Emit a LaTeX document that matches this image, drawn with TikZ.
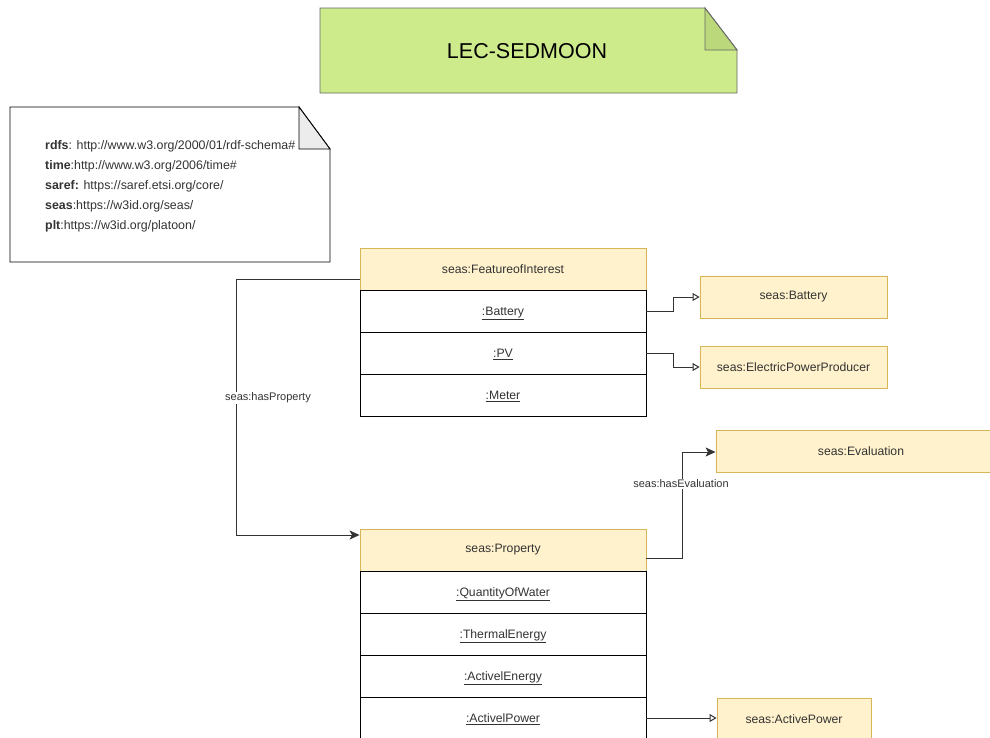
\documentclass[tikz,border=0pt]{standalone}
\usepackage{fontspec}
\setmainfont{Liberation Sans}
\usetikzlibrary{arrows.meta}
\definecolor{hdrfill}{HTML}{FFF2CC}
\definecolor{hdrline}{HTML}{D6B656}
\definecolor{notegreen}{HTML}{CDEB8B}
\definecolor{notefold}{HTML}{BBD97B}
\definecolor{notegray}{HTML}{666666}
\definecolor{edgecol}{HTML}{333333}
\begin{document}
\begin{tikzpicture}[x=1pt,y=-1pt,
  hdr/.style={draw=hdrline,fill=hdrfill,line width=0.9pt,minimum height=42pt,inner sep=0pt,font=\fontsize{12.2}{14}\selectfont,text=edgecol},
  rowbox/.style={draw=black,fill=white,line width=0.9pt,minimum height=42pt,minimum width=286pt,inner sep=0pt,text height=8.8pt,text depth=0pt,font=\fontsize{12.2}{14}\selectfont,text=edgecol},
  lbl/.style={fill=white,inner sep=1pt,font=\fontsize{11}{13}\selectfont,text=edgecol},
  conn/.style={draw=edgecol,line width=1pt},
  openarr/.style={conn,-{Triangle[open,length=7pt,width=8pt,fill=white]}},
  fillarr/.style={conn,-{Stealth[length=10pt,width=9pt,inset=2.5pt]}}
]
\useasboundingbox (0,0) rectangle (990,737);

% title note
\path[draw=notegray,fill=notegreen,line width=0.9pt] (320,8) -- (705,8) -- (737,50) -- (737,93) -- (320,93) -- cycle;
\path[draw=notegray,fill=notefold,line width=0.9pt] (705,8) -- (705,50) -- (737,50) -- cycle;
\node[font=\fontsize{21.5}{24}\selectfont,text=black] (title) at (527,51) {LEC-SEDMOON};

% prefix note
\path[draw=black,fill=white,line width=0.9pt] (10,107) -- (299,107) -- (330,149) -- (330,262) -- (10,262) -- cycle;
\path[draw=black,fill=gray!15,line width=0.9pt] (299,107) -- (299,149) -- (330,149) -- cycle;
\node[anchor=north west,align=left,inner sep=0pt,font=\fontsize{12.4}{20}\selectfont,text=edgecol] (prefixes) at (45,140) {%
\textbf{rdfs}: http://www.w3.org/2000/01/rdf-schema\#\\
\textbf{time}:http://www.w3.org/2006/time\#\\
\textbf{saref:} https://saref.etsi.org/core/\\
\textbf{seas}:https://w3id.org/seas/\\
\textbf{plt}:https://w3id.org/platoon/};

% FeatureOfInterest table
\node[hdr,minimum width=286pt] (foi) at (503,269) {seas:FeatureofInterest};
\node[rowbox] (bat) at (503,311) {\underline{:Battery}};
\node[rowbox] (pv) at (503,353) {\underline{:PV}};
\node[rowbox] (meter) at (503,395) {\underline{:Meter}};

% class boxes
\node[hdr,minimum width=187pt] (cbat) at (793.5,297) {seas:Battery};
\node[hdr,minimum width=187pt] (cepp) at (793.5,367) {seas:ElectricPowerProducer};
\node[hdr,minimum width=290pt] (ceval) at (861,451) {seas:Evaluation};
\node[hdr,minimum width=154pt] (cap) at (794,719) {seas:ActivePower};

% Property table
\node[hdr,minimum width=286pt] (prop) at (503,550) {seas:Property};
\node[rowbox] (qw) at (503,592) {\underline{:QuantityOfWater}};
\node[rowbox] (te) at (503,634) {\underline{:ThermalEnergy}};
\node[rowbox] (ae) at (503,676) {\underline{:ActivelEnergy}};
\node[rowbox] (ap) at (503,718) {\underline{:ActivelPower}};

% connectors
\coordinate (hp1) at (236,279);
\coordinate (hp2) at (236,535);
\draw[fillarr] (foi.west |- hp1) -- (hp1) -- (hp2) -- (prop.west |- hp2);
\node[lbl] (hplbl) at (268,398) {seas:hasProperty};

\draw[openarr] (bat.east) -- (673,311) -- (673,297) -- (cbat.west);
\draw[openarr] (pv.east) -- (673,353) -- (673,367) -- (cepp.west);

\coordinate (he1) at (682,558);
\coordinate (he2) at (682,452);
\draw[fillarr] (prop.east |- he1) -- (he1) -- (he2) -- (ceval.west |- he2);
\node[lbl] (helbl) at (681,484) {seas:hasEvaluation};

\draw[openarr] (ap.east) -- (ap.east -| cap.west);
\end{tikzpicture}
\end{document}
